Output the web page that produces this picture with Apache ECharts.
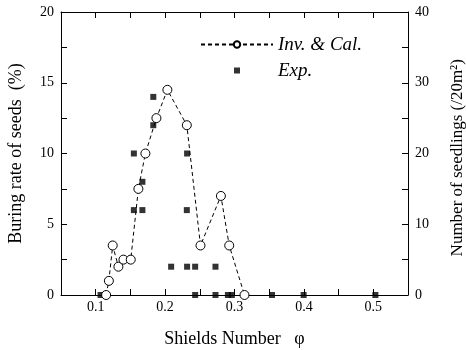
<!DOCTYPE html>
<html>
<head>
<meta charset="utf-8">
<script src="https://cdn.jsdelivr.net/npm/echarts@6/dist/echarts.min.js"></script>
<style>
  html, body { margin: 0; padding: 0; background: #fff; }
  #chart { width: 466px; height: 350px; }
</style>
</head>
<body>
<div id="chart"></div>
<script>
// Inv. & Cal. (burning rate, left axis)
const invShields = [0.115, 0.119, 0.1245, 0.1327, 0.14, 0.1505, 0.1615, 0.1716, 0.1875, 0.2033, 0.2313, 0.251, 0.2804, 0.2924, 0.3144]
const invRate = [0, 1, 3.5, 2, 2.5, 2.5, 7.5, 10, 12.5, 14.5, 12, 3.5, 7, 3.5, 0]

// Exp. (seedlings, right axis)
const expShields = [0.107, 0.155, 0.155, 0.1673, 0.1673, 0.183, 0.183, 0.2087, 0.2313, 0.2317, 0.2317,
  0.2433, 0.2433, 0.2726, 0.2726, 0.2905, 0.2962, 0.354, 0.3996, 0.503]
const expSeedlings = [0, 20, 12, 16, 12, 28, 24, 4, 12, 20, 4,
  4, 0, 4, 0, 0, 0, 0, 0, 0]

const xLabels = ['0.1', '0.2', '0.3', '0.4', '0.5']

const FONT = '"Liberation Serif", "Times New Roman", serif'
const INK = '#000'

const chart = echarts.init(document.getElementById('chart'), null, { renderer: 'canvas' })

const axisBase = {
  axisLine: { show: true, onZero: false, lineStyle: { color: INK, width: 1 } },
  axisTick: { show: true, inside: true, length: 6, lineStyle: { color: INK, width: 1 } },
  splitLine: { show: false },
  nameTextStyle: { fontFamily: FONT, fontSize: 17, color: INK },
}

const xAxisCommon = {
  ...axisBase,
  type: 'value',
  min: 0.05,
  max: 0.55,
  interval: 0.05,
}

// small square centred in the wide legend box (degenerate points pin the bounds)
const squareIcon = 'path://M0,0L0,0M33,1h6v6h-6zM72,8L72,8'

chart.setOption({
  animation: false,
  backgroundColor: '#fff',
  grid: { left: 61, right: 58, top: 12, bottom: 55, outerBoundsMode: 'none' },
  legend: {
    orient: 'vertical',
    left: 200,
    top: 35,
    padding: 0,
    itemWidth: 72,
    itemHeight: 8,
    itemGap: 7,
    data: [
      { name: 'Inv. & Cal.' },
      { name: 'Exp.', icon: squareIcon },
    ],
    textStyle: { fontFamily: FONT, fontStyle: 'italic', fontSize: 19, color: INK },
  },
  xAxis: [
    {
      ...xAxisCommon,
      position: 'bottom',
      name: 'Shields Number   \u03c6',
      nameLocation: 'middle',
      nameGap: 35,
      nameTextStyle: { fontFamily: FONT, fontSize: 18, color: INK },
      axisLabel: {
        fontFamily: FONT, fontSize: 14, color: INK, margin: 5,
        formatter: v => {
          const s = v.toFixed(1)
          return xLabels.includes(s) && Math.abs(v - Number(s)) < 1e-6 ? s : ''
        },
      },
    },
    {
      ...xAxisCommon,
      position: 'top',
      axisLabel: { show: false },
    },
  ],
  yAxis: [
    {
      ...axisBase,
      type: 'value',
      position: 'left',
      min: 0,
      max: 20,
      interval: 2.5,
      name: 'Buring rate of seeds  (%)',
      nameLocation: 'middle',
      nameGap: 36,
      nameTextStyle: { fontFamily: FONT, fontSize: 18, color: INK },
      axisLabel: {
        fontFamily: FONT, fontSize: 14, color: INK, margin: 7,
        formatter: v => (v % 5 === 0 ? String(v) : ''),
      },
    },
    {
      ...axisBase,
      type: 'value',
      position: 'right',
      min: 0,
      max: 40,
      interval: 5,
      name: 'Number of seedlings (/20m\u00b2)  ',
      nameLocation: 'middle',
      nameGap: 41,
      nameRotate: 90,
      nameTextStyle: { fontFamily: FONT, fontSize: 17, color: INK },
      axisLabel: {
        fontFamily: FONT, fontSize: 14, color: INK, margin: 7,
        formatter: v => (v % 10 === 0 ? String(v) : ''),
      },
    },
  ],
  series: [
    {
      name: 'Exp.',
      type: 'scatter',
      yAxisIndex: 1,
      symbol: 'rect',
      symbolSize: 6,
      itemStyle: { color: INK },
      data: expShields.map((x, i) => [x, expSeedlings[i]]),
      z: 2,
    },
    {
      name: 'Inv. & Cal.',
      type: 'line',
      yAxisIndex: 0,
      symbol: 'circle',
      symbolSize: 9,
      showAllSymbol: true,
      lineStyle: { color: INK, width: 1, type: [4, 3] },
      itemStyle: { color: '#fff', borderColor: INK, borderWidth: 1 },
      data: invShields.map((x, i) => [x, invRate[i]]),
      z: 3,
    },
  ],
})
</script>
</body>
</html>
